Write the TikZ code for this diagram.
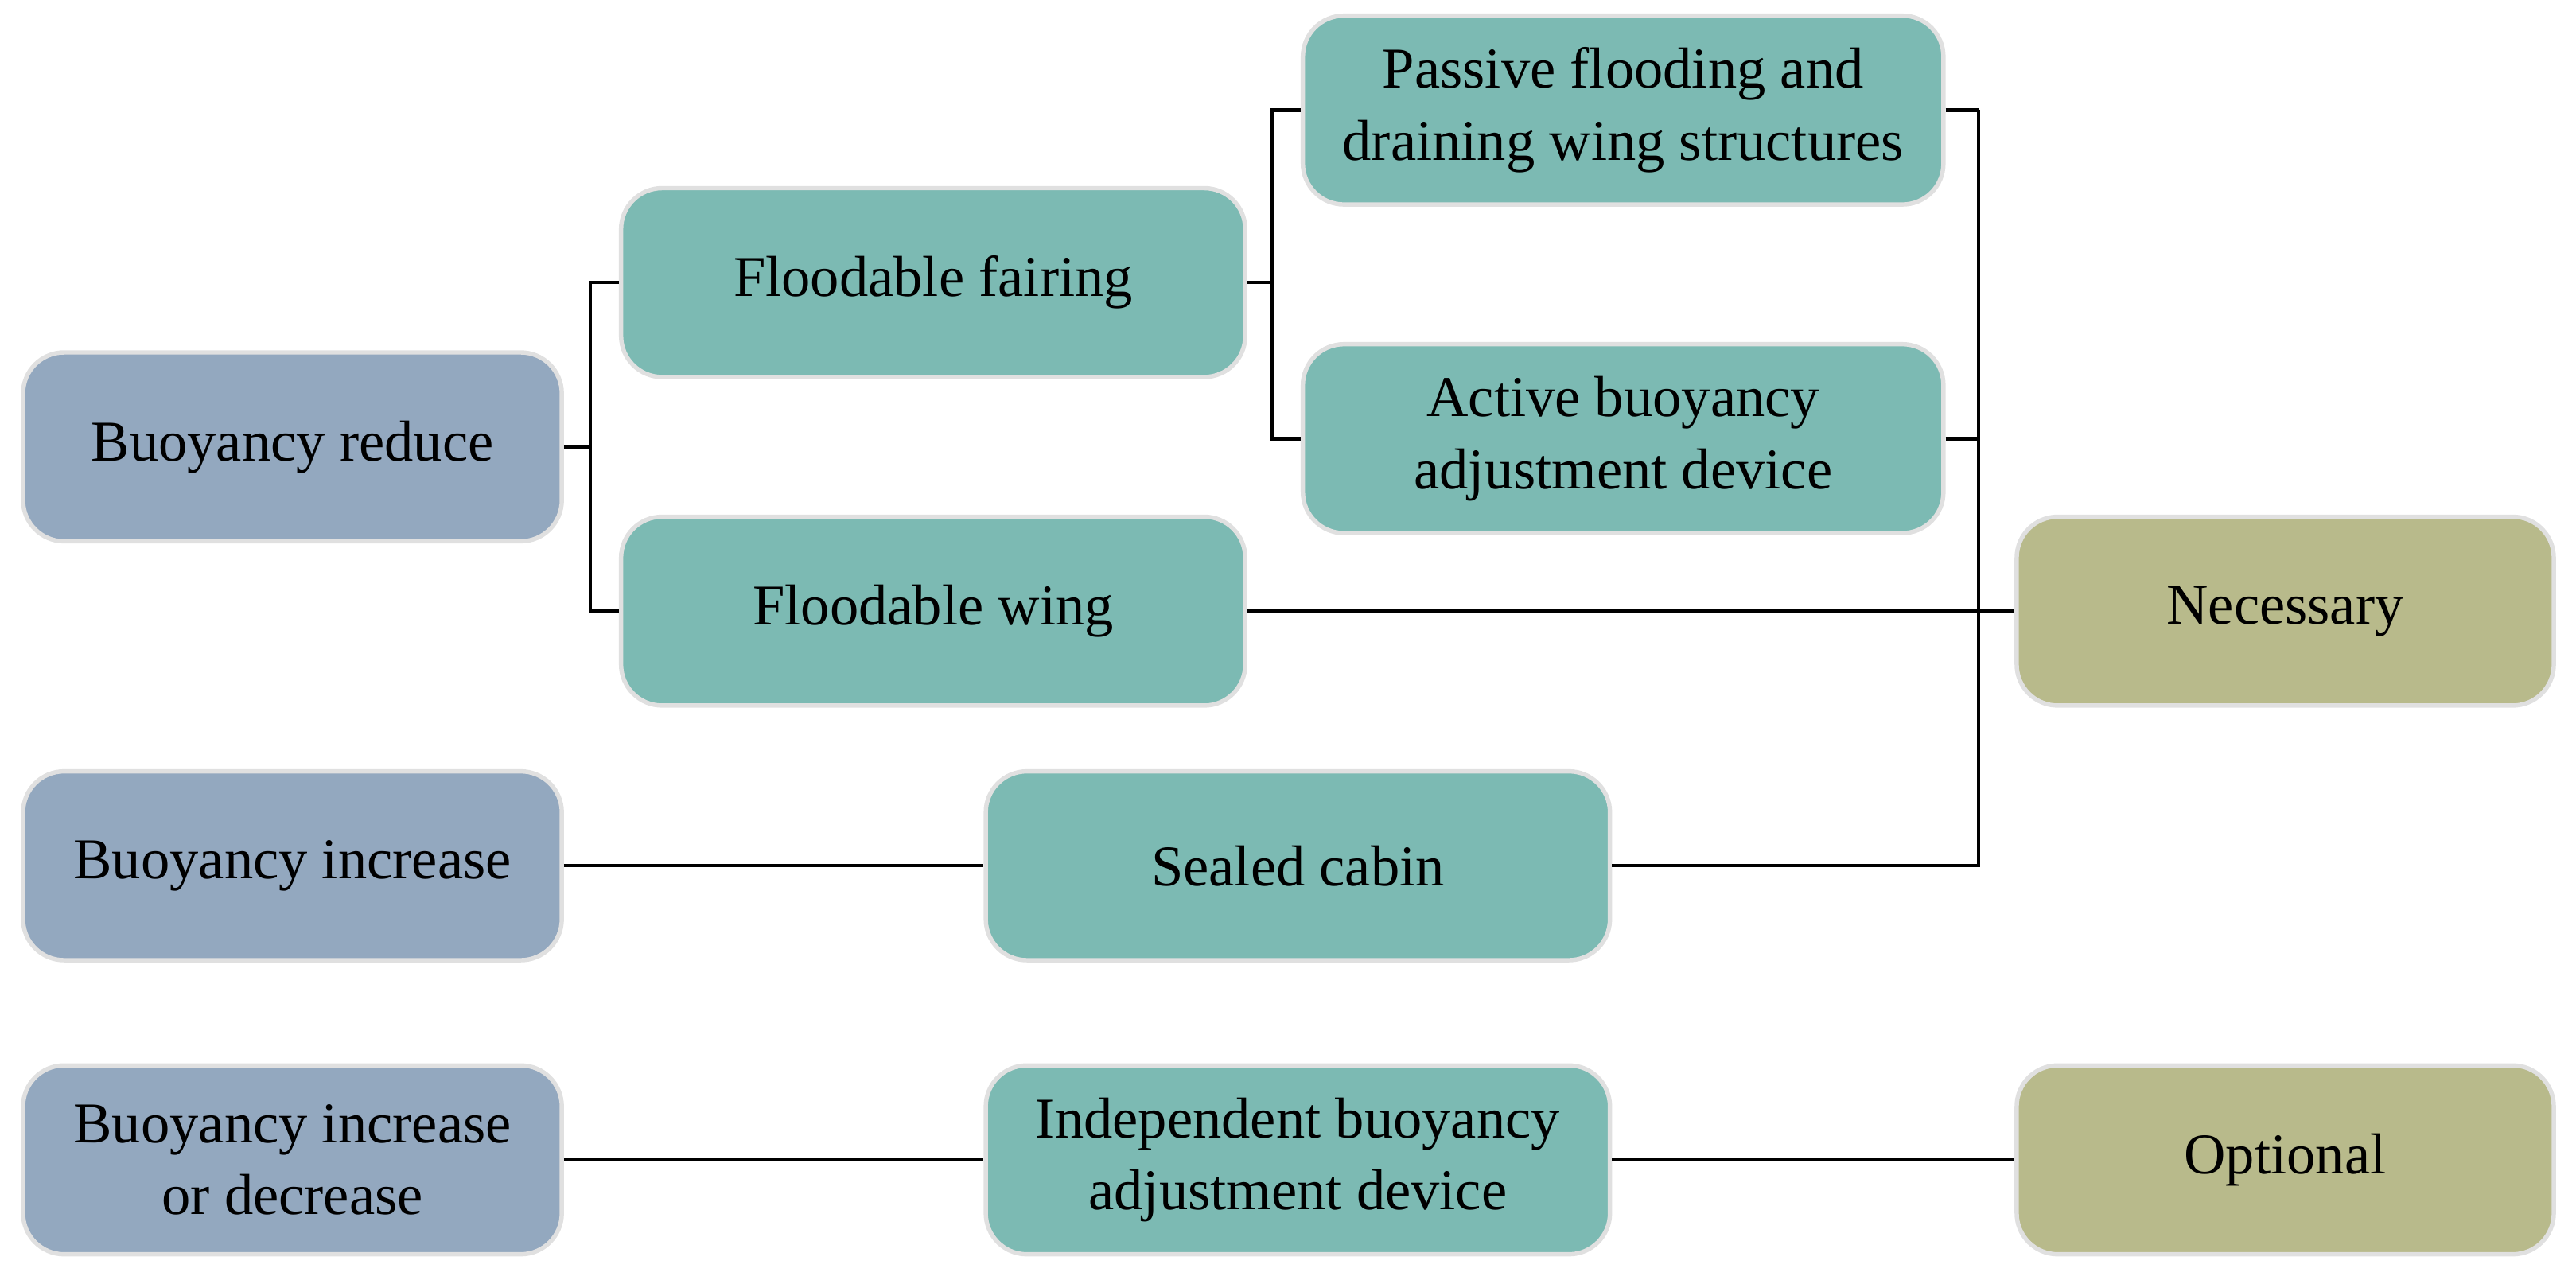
\documentclass[tikz,border=0pt]{standalone}
\usepackage{fontspec}
\setmainfont{Liberation Serif}
\begin{document}
\begin{tikzpicture}[x=0.02cm,y=-0.02cm,
 box/.style={draw=black!12,line width=1.5pt,rounded corners=0.5cm,align=center,font=\fontsize{20}{25}\selectfont,inner sep=0pt,minimum height=2.3cm},
 bl/.style={box,fill=bluegray,minimum width=6.56cm},
 tl/.style={box,fill=teal2,minimum width=7.6cm},
 tw/.style={box,fill=teal2,minimum width=7.8cm},
 ol/.style={box,fill=olive2,minimum width=6.54cm},
 ln/.style={line width=1.2pt}]
\definecolor{bluegray}{HTML}{93A8BF}
\definecolor{teal2}{HTML}{7CBAB3}
\definecolor{olive2}{HTML}{B8BA8B}
\useasboundingbox (0,0) rectangle (1568,779);
\node[bl] (br) at (178,272) {Buoyancy reduce};
\node[tl] (ff) at (568,172) {Floodable fairing};
\node[tl] (fw) at (568,372) {Floodable wing};
\node[tw] (pf) at (988,67) {Passive flooding and\\draining wing structures};
\node[tw] (ab) at (988,267) {Active buoyancy\\adjustment device};
\node[ol] (ne) at (1391,372) {Necessary};
\node[bl] (bi) at (178,527) {Buoyancy increase};
\node[tl] (sc) at (790,527) {Sealed cabin};
\node[bl] (bd) at (178,706) {Buoyancy increase\\or decrease};
\node[tl] (ib) at (790,706) {Independent buoyancy\\adjustment device};
\node[ol] (op) at (1391,706) {Optional};
\draw[ln] (br.east) -- ++(16,0) coordinate (j1);
\draw[ln] (ff.west) -| (j1) |- (fw.west);
\draw[ln] (ff.east) -- ++(15,0) coordinate (j2);
\draw[ln] (pf.west) -| (j2) |- (ab.west);
\draw[ln] (pf.east) -- ++(20,0) coordinate (j3);
\draw[ln] (j3) |- (sc.east);
\draw[ln] (ab.east) -- (ab.east -| j3);
\draw[ln] (fw.east) -- (ne.west);
\draw[ln] (bi) -- (sc);
\draw[ln] (bd) -- (ib) -- (op);
\end{tikzpicture}
\end{document}
